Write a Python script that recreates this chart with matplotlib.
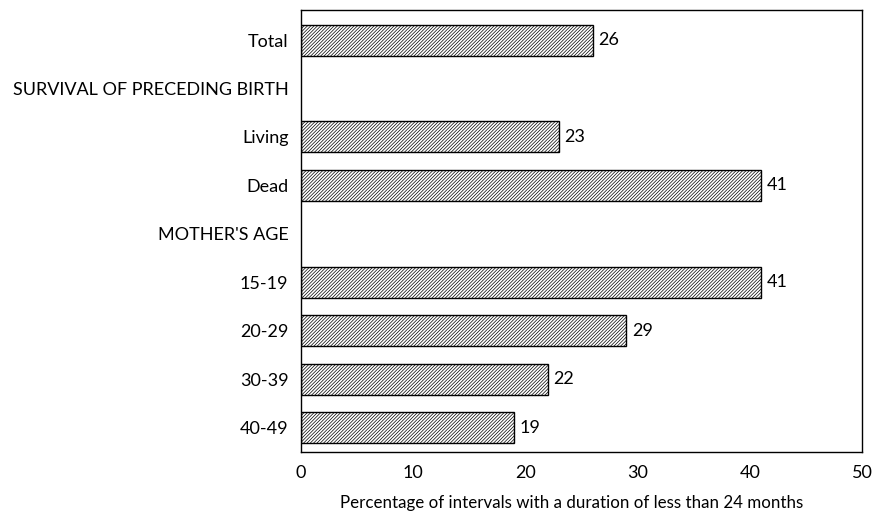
import matplotlib.pyplot as plt
import numpy as np

# данные
labels = ['Total', 'SURVIVAL OF PRECEDING BIRTH', 'Living', 'Dead', "MOTHER'S AGE",
          '15-19', '20-29', '30-39', '40-49']
values = [26, None, 23, 41, None, 41, 29, 22, 19]

plt.rcParams['font.family'] = ['Lato', 'DejaVu Sans']
plt.rcParams['hatch.linewidth'] = 0.5

fig = plt.figure(figsize=(8.74, 5.16), dpi=100)
ax = fig.add_axes([0.3444, 0.124, 0.6419, 0.8566])

y = np.arange(len(labels))
for i, v in enumerate(values):
    if v is None:
        continue
    ax.barh(i, v, height=0.64, color='white', edgecolor='black', linewidth=1.0, hatch='//////////')
    ax.text(v + 0.5, i, str(v), va='center', ha='left', fontsize=13)

ax.set_yticks(y)
ax.set_yticklabels(labels, fontsize=13)
ax.set_ylim(8.5, -0.62)
ax.set_xlim(0, 50)
ax.set_xticks([0, 10, 20, 30, 40, 50])
ax.tick_params(axis='both', length=0, labelsize=13)
ax.tick_params(axis='x', pad=9)
ax.tick_params(axis='y', pad=9)
ax.set_xlabel('Percentage of intervals with a duration of less than 24 months', fontsize=12.2)
ax.xaxis.set_label_coords(0.482, -0.097)
for s in ax.spines.values():
    s.set_linewidth(1.0)

fig.savefig('out.png', dpi=100)
